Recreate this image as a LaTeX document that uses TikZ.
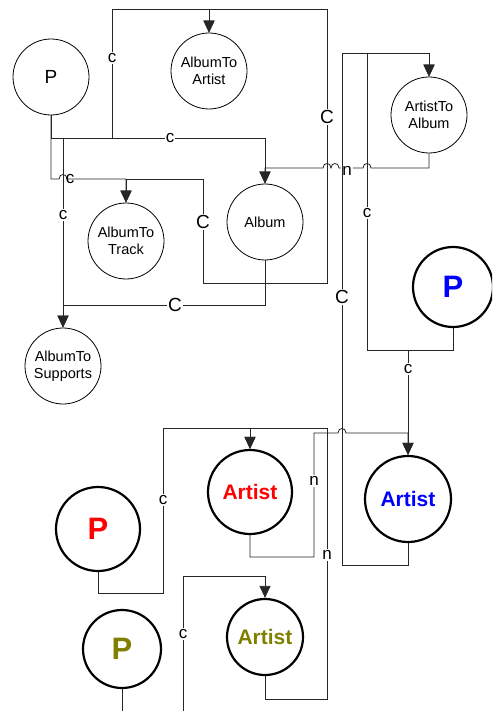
\documentclass[tikz,border=0pt]{standalone}
\usepackage{fontspec}
\setmainfont{Liberation Sans}
\usetikzlibrary{arrows.meta}
\definecolor{olivetxt}{RGB}{128,128,0}

\begin{document}
\begin{tikzpicture}[x=1pt,y=-1pt,
  plain/.style={circle,draw,line width=0.8pt,inner sep=0pt,minimum size=76pt,
    align=center,font=\fontsize{14.5}{16.5}\selectfont},
  heavy/.style={circle,draw,line width=2.2pt,inner sep=0pt,align=center},
  arr/.style={draw=black!85,line width=0.8pt,-{Triangle[width=11pt,length=12pt]}},
  lab/.style={fill=white,inner sep=1pt,font=\fontsize{17}{17}\selectfont},
  biglab/.style={fill=white,inner sep=1pt,font=\fontsize{19}{19}\selectfont},
]
\useasboundingbox (0,0) rectangle (492,711);
\clip (0,0) rectangle (492,711);

% ---- album relations ----
\node[plain,font=\fontsize{19}{19}\selectfont] (P0) at (51,77) {P};
\node[plain] (A2Art)   at (209,71)  {AlbumTo\\Artist};
\node[plain] (Art2Alb) at (429,115) {ArtistTo\\Album};
\node[plain] (Album)   at (265,222) {Album};
\node[plain] (A2Track) at (126,241) {AlbumTo\\Track};
\node[plain] (A2Sup)   at (63,366)  {AlbumTo\\Supports};

% ---- artist instances ----
\node[heavy,minimum size=80pt,text=blue,font=\bfseries\fontsize{31}{31}\selectfont] (PB) at (453,287) {P};
\node[heavy,minimum size=86pt,text=blue,font=\bfseries\fontsize{21}{21}\selectfont] (ArtB) at (408,499) {Artist};
\node[heavy,minimum size=84pt,text=red,font=\bfseries\fontsize{21}{21}\selectfont] (ArtR) at (250,492) {Artist};
\node[heavy,minimum size=84pt,text=red,font=\bfseries\fontsize{31}{31}\selectfont] (PR) at (98,529) {P};
\node[heavy,minimum size=78pt,text=olivetxt,font=\bfseries\fontsize{31}{31}\selectfont] (PO) at (122,649) {P};
\node[heavy,minimum size=76pt,text=olivetxt,font=\bfseries\fontsize{21}{21}\selectfont] (ArtO) at (265,637) {Artist};

% ---- connectors from P ----
\draw[arr] (P0.south) -- (51,138) -- (112,138) -- (112,9) -| (A2Art.north);
\draw[arr] (P0.south) -- (51,138) -| (Album.north);
\draw[arr] (P0.south) -- (51,138) -| (A2Sup.north);
\draw[arr] (P0.south) -- (51,179) -- (59,179) .. controls (59,173) and (67,173) .. (67,179) -| (A2Track.north);

% ---- connectors from Album ----
\draw[arr] (Album.south) -- (265,283) -- (327,283) -- (327,9) -| (A2Art.north);
\draw[arr] (Album.south) -- (265,283) -- (203,283) -- (203,179) -| (A2Track.north);
\draw[arr] (Album.south) -- (265,305) -| (A2Sup.north);

% ---- ArtistToAlbum back to Album ----
\draw[arr] (Art2Alb.south) -- (429,168) -- (371,168)
  .. controls (371,162) and (363,162) .. (363,168) -- (339,168)
  .. controls (339,162) and (331,162) .. (331,168)
  .. controls (331,162) and (323,162) .. (323,168) -| (Album.north);

% ---- artist side ----
\draw[arr] (PB.south) -- (453,350) -- (367,350) -- (367,53) -| (Art2Alb.north);
\draw[arr] (PB.south) -- (453,350) -| (ArtB.north);
\draw[arr] (ArtR.south) -- (250,557) -- (314,557) -- (314,433) -- (338,433)
  .. controls (338,427) and (346,427) .. (346,433) -| (ArtB.north);
\draw[arr] (ArtO.south) -- (265,699) -- (327,699) -- (327,428) -| (ArtR.north);
\draw[arr] (PR.south) -- (98,593) -- (163,593) -- (163,428) -| (ArtR.north);
\draw[arr] (PO.south) -- (122,720) -- (183,720) -- (183,576) -| (ArtO.north);

% ---- labels ----
\node[lab] (l1) at (112,58) {c};
\node[lab] (l2) at (170,138) {c};
\node[lab] (l3) at (63,215) {c};
\node[lab,fill=none] (l4) at (70,179) {c};
\node[biglab] (l5) at (327,117) {C};
\node[biglab] (l6) at (203,222) {C};
\node[biglab] (l7) at (175,305) {C};
\node[lab] (l8) at (347,171) {n};
\node[lab] (l9) at (367,213) {c};
\node[lab] (l10) at (408,369) {c};
\node[lab] (l11) at (314,481) {n};
\node[lab] (l12) at (327,555) {n};
\node[lab] (l13) at (163,500) {c};
\node[lab] (l14) at (183,634) {c};

% this one runs through the n label
\draw[arr] (ArtB.south) -- (408,565) -- (342,565) -- (342,53) -| (Art2Alb.north);
\node[biglab] (l15) at (342,297) {C};
\end{tikzpicture}
\end{document}
